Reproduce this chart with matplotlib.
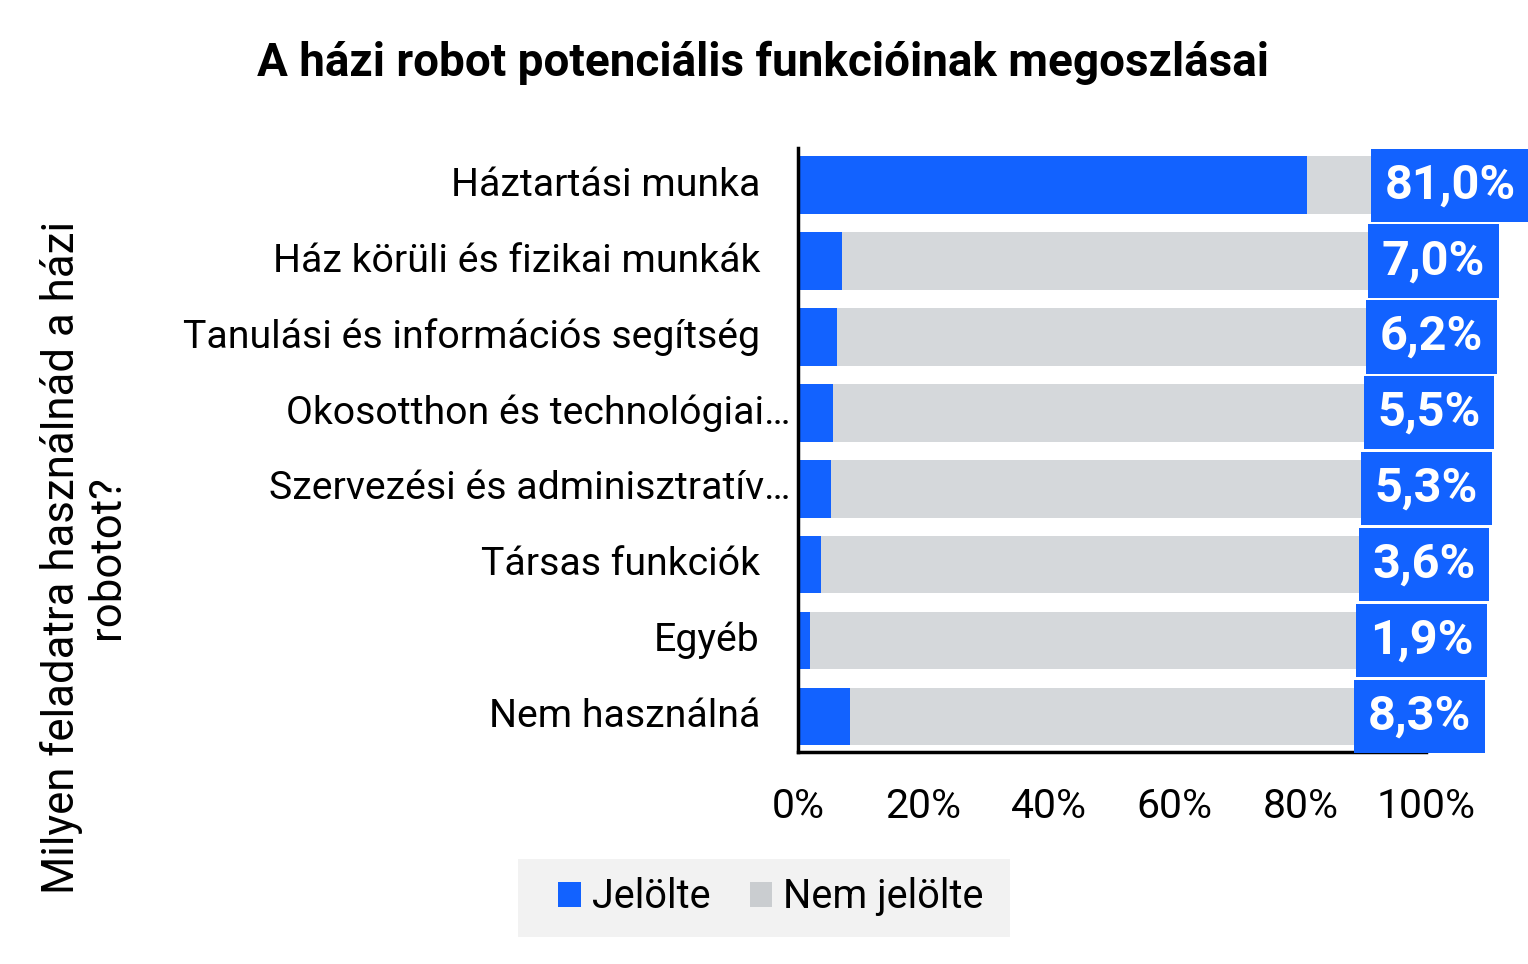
import matplotlib
matplotlib.use("Agg")
import matplotlib.pyplot as plt
import matplotlib.transforms as mtransforms
from matplotlib.patches import Patch, Rectangle

categories = ["Háztartási munka", "Ház körüli és fizikai munkák",
              "Tanulási és információs segítség", "Okosotthon és technológiai…",
              "Szervezési és adminisztratív…", "Társas funkciók", "Egyéb",
              "Nem használná"]
jelolte = [81.0, 7.0, 6.2, 5.5, 5.3, 3.6, 1.9, 8.3]
value_labels = ["81,0%", "7,0%", "6,2%", "5,5%", "5,3%", "3,6%", "1,9%", "8,3%"]
xticks = [0, 20, 40, 60, 80, 100]
xtick_labels = ["0%", "20%", "40%", "60%", "80%", "100%"]
series_names = ["Jelölte", "Nem jelölte"]
title = "A házi robot potenciális funkcióinak megoszlásai"
ylabel = "Milyen feladatra használnád a házi\nrobotot?"

BLUE = "#1262FF"
GREY = "#D5D8DB"
GREY_LEG = "#CACDD0"
FONT = "Roboto"

plt.rcParams["font.family"] = [FONT, "DejaVu Sans"]

fig = plt.figure(figsize=(15.28, 9.64), dpi=100)
ax = fig.add_axes([798/1528, 1-752/964, (1426-798)/1528, (752-148)/964])

ys = list(range(len(categories)))
nem = [100 - v for v in jelolte]
ax.barh(ys, jelolte, height=0.76, color=BLUE, zorder=2)
ax.barh(ys, nem, left=jelolte, height=0.76, color=GREY, zorder=2)

ax.set_xlim(0, 100)
ax.set_ylim(7.47, -0.49)
ax.set_xticks(xticks)
ax.set_xticklabels(xtick_labels, fontsize=29.5)
ax.tick_params(axis="x", length=0, pad=25)
ax.set_yticks([])
for s in ["top", "right"]:
    ax.spines[s].set_visible(False)
for s in ["left", "bottom"]:
    ax.spines[s].set_linewidth(2.5)
    ax.spines[s].set_color("black")

# category labels
btrans = mtransforms.blended_transform_factory(ax.transAxes, ax.transData)
for i, c in enumerate(categories):
    off = -8 if c.endswith("…") else -38
    tr = btrans + mtransforms.ScaledTranslation(off/100, 0, fig.dpi_scale_trans)
    ax.text(0, i, c, transform=tr, ha="right", va="center", fontsize=28.3)

# value labels in blue boxes
VFS = 35
PAD = 0.28
pad_px = PAD * VFS * 100 / 72
for i, lab in enumerate(value_labels):
    xl = 91.2 - 0.38*i
    ax.annotate(lab, xy=(xl, i), xytext=(pad_px, 0), textcoords="offset pixels",
                ha="left", va="center", fontsize=VFS, fontweight="bold",
                color="white", zorder=5, annotation_clip=False,
                bbox=dict(boxstyle=f"square,pad={PAD}", fc=BLUE, ec="none"))

fig.text(0.4994, 1-63/964, title, ha="center", va="center",
         fontsize=33, fontweight="bold")
fig.text(84/1528, 1-557/964, ylabel, rotation=90, ha="center", va="center",
         multialignment="center", fontsize=31.5, linespacing=1.12)

# legend background panel
fig.patches.append(Rectangle((518/1528, 1-937/964), (1010-518)/1528, 78/964,
                             transform=fig.transFigure, facecolor="#F2F2F2",
                             edgecolor="none", zorder=0))
handles = [Patch(facecolor=BLUE, edgecolor="none"),
           Patch(facecolor=GREY_LEG, edgecolor="none")]
leg = fig.legend(handles, series_names, loc="center",
                 bbox_to_anchor=(771/1528, 1-897/964), ncol=2, fontsize=28.5,
                 frameon=False, handlelength=0.56, handleheight=0.56,
                 handletextpad=0.28, columnspacing=1.0, borderpad=0.3)

fig.savefig("out.png", dpi=100)
